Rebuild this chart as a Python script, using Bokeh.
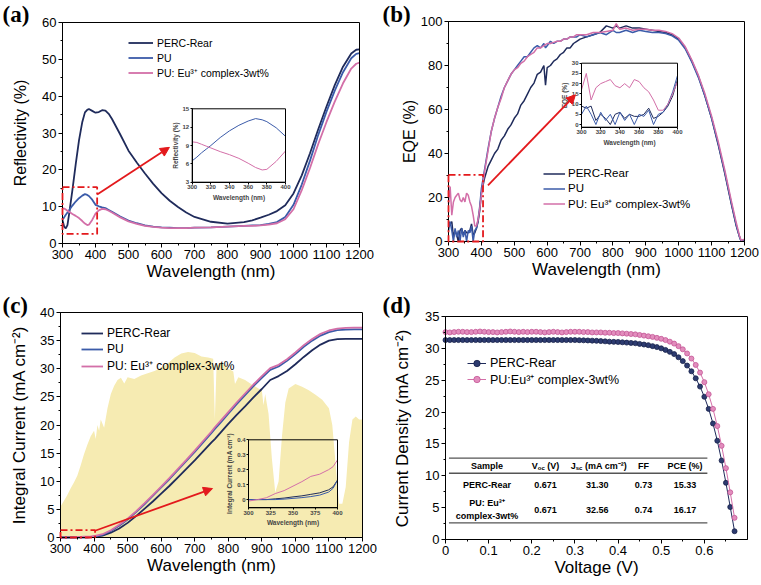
from bokeh.plotting import figure
from bokeh.layouts import row, column
from bokeh.models import (Range1d, LinearAxis, SingleIntervalTicker, FixedTicker,
                          Legend, LegendItem, BoxAnnotation, Arrow, NormalHead, Label)
from bokeh.core.properties import value
from bokeh.embed import file_html
from bokeh.resources import INLINE

# ---------------- (a) reflectivity ----------------
WL_A = [300, 305, 310, 315, 320, 330, 340, 350, 360, 368,
        375, 380, 390, 400, 410, 420, 430, 440, 450, 475,
        500, 525, 550, 575, 600, 625, 650, 675, 700, 750,
        800, 850, 875, 900, 925, 950, 975, 1000, 1025, 1050,
        1075, 1100, 1125, 1150, 1175, 1190, 1200]
REFL_PERC = [6.3, 4.6, 4.1, 5.0, 8.0, 14.5, 21.5, 28.0, 33.0, 35.6,
             36.3, 36.5, 36.0, 35.5, 35.7, 36.2, 36.1, 35.2, 33.8, 29.6,
             25.2, 22.0, 19.0, 16.2, 13.7, 11.6, 9.9, 8.4, 7.2, 5.9,
             5.4, 5.8, 6.3, 7.0, 7.8, 8.8, 10.4, 13.6, 18.5, 24.5,
             31.0, 37.2, 43.0, 48.0, 51.6, 52.6, 52.7]
REFL_PU = [6.5, 7.1, 7.8, 8.4, 9.0, 10.3, 11.4, 12.3, 13.0, 13.4,
           13.2, 12.9, 11.9, 10.5, 10.1, 9.8, 9.6, 9.1, 8.6, 7.3,
           6.2, 5.5, 4.9, 4.6, 4.4, 4.3, 4.2, 4.2, 4.3, 4.4,
           4.6, 4.8, 4.9, 5.0, 5.3, 5.8, 7.2, 10.5, 16.0, 22.5,
           29.5, 35.8, 41.5, 46.5, 50.3, 51.5, 51.7]
REFL_EU = [9.6, 9.5, 9.2, 8.9, 8.6, 8.0, 7.5, 6.9, 6.1, 5.4,
           5.0, 5.1, 6.4, 8.1, 9.0, 9.4, 9.3, 8.9, 8.4, 7.1,
           6.0, 5.3, 4.8, 4.5, 4.3, 4.2, 4.2, 4.2, 4.3, 4.4,
           4.6, 4.8, 4.8, 4.9, 5.1, 5.5, 6.6, 9.3, 14.5, 20.5,
           27.0, 33.0, 38.5, 43.5, 47.5, 48.8, 49.1]

# ---------------- (b) EQE ----------------
WL_B = [300, 305, 310, 315, 320, 325, 330, 335, 340, 345,
        350, 355, 360, 365, 370, 375, 380, 385, 390, 395,
        400, 410, 420, 430, 440, 450, 460, 470, 480, 490,
        500, 510, 520, 530, 540, 550, 560, 570, 580, 590,
        595, 600, 610, 620, 630, 640, 650, 660, 670, 680,
        690, 700, 720, 740, 760, 780, 800, 810, 820, 840,
        860, 880, 900, 920, 940, 960, 980, 1000, 1020, 1040,
        1060, 1080, 1100, 1120, 1140, 1160, 1175, 1185, 1190, 1200]
EQE_PERC = [9, 8, 9, 2, 5, 3, 0, 5, 6, 3,
            5, 4, 4, 5, 8, 3, 4, 6, 9, 14,
            22, 29, 34, 37, 40, 42, 46, 48, 51, 53,
            56, 58, 62, 64, 67, 70, 72, 76, 77, 80,
            71, 79, 80, 82, 83, 85, 86, 88, 88, 90,
            91, 92, 93, 94, 95, 98, 97, 98, 97, 98,
            97, 97, 96.5, 96, 95.5, 95, 94, 92, 88, 82,
            75, 66, 56, 44, 31, 17, 7, 2, 0, 1]
EQE_PU = [5, 9, 5, 0, 6, 2, 5, 0, 6, 2,
          5, 0, 5, 4, 7, 0, 5, 6, 10, 16,
          24, 33, 42, 50, 56, 61, 66, 70, 73, 76,
          78, 80, 82, 84, 84, 86, 88, 89, 88, 90,
          88, 89, 91, 90, 91, 91, 92, 92, 93, 93,
          93, 94, 93, 94, 95, 94, 96, 95, 95, 96,
          95, 96, 95.5, 95, 95, 94.5, 93.5, 91.5, 87.5, 81.5,
          74.5, 66, 56, 44.5, 31.5, 17.5, 7.5, 2, 0, 1]
EQE_EU = [17, 25, 12, 18, 20, 21, 22, 19, 18, 20,
          18, 22, 21, 18, 16, 12, 7, 7, 10, 15,
          21, 32, 41, 50, 56, 61, 65, 70, 73, 76,
          78, 79, 81, 82, 84, 85, 86, 88, 88, 89,
          89.5, 90, 90, 90.5, 91, 91, 92, 92, 93, 93,
          94, 94, 94, 95, 95, 95.5, 96, 99, 96.5, 97,
          96, 96.5, 96.5, 96, 96, 95.5, 94.5, 92.5, 88.5, 82.5,
          75.5, 67, 57, 45.5, 32.5, 18.5, 8.5, 2.5, 0.5, 1]

# ---------------- (c) integral current + AM1.5G ----------------
WL_C = [300, 310, 320, 330, 340, 350, 360, 370, 380, 390,
        395, 400, 425, 450, 475, 500, 525, 550, 575, 600,
        625, 650, 675, 700, 725, 750, 760, 775, 800, 825,
        850, 875, 900, 925, 950, 975, 1000, 1025, 1050, 1075,
        1100, 1125, 1150, 1175, 1200]
JINT_PERC = [0, 0, 0, 0.005, 0.01, 0.018, 0.025, 0.035, 0.045, 0.065,
             0.085, 0.13, 0.35, 0.85, 1.6, 2.6, 3.8, 5.1, 6.4, 7.8,
             9.2, 10.7, 12.2, 13.7, 15.3, 16.9, 17.5, 18.5, 20.2, 21.8,
             23.3, 24.9, 26.4, 28.0, 28.7, 29.6, 30.8, 32.1, 33.3, 34.3,
             35.0, 35.25, 35.3, 35.3, 35.3]
JINT_PU = [0, 0, 0, 0, 0.003, 0.008, 0.013, 0.02, 0.03, 0.05,
           0.075, 0.13, 0.45, 1.15, 2.1, 3.2, 4.5, 5.9, 7.4, 8.9,
           10.4, 12.0, 13.6, 15.2, 16.9, 18.6, 19.3, 20.3, 22.0, 23.7,
           25.3, 26.9, 28.4, 29.8, 30.4, 31.4, 32.6, 33.9, 35.0, 35.9,
           36.5, 36.85, 36.95, 37.0, 37.0]
JINT_EU = [-0.01, 0.0, 0.012, 0.04, 0.06, 0.09, 0.12, 0.155, 0.17, 0.2,
           0.22, 0.265, 0.58, 1.3, 2.25, 3.35, 4.65, 6.05, 7.55, 9.05,
           10.6, 12.2, 13.8, 15.45, 17.15, 18.85, 19.6, 20.6, 22.3, 24.0,
           25.6, 27.2, 28.7, 30.1, 30.7, 31.7, 32.9, 34.2, 35.3, 36.2,
           36.8, 37.15, 37.25, 37.3, 37.3]
SOLAR_WL = [300, 310, 320, 330, 340, 350, 360, 370, 380, 390,
            400, 405, 410, 415, 420, 430, 440, 450, 460, 470,
            480, 490, 500, 520, 540, 560, 580, 600, 620, 640,
            660, 680, 700, 720, 740, 755, 760, 765, 780, 800,
            815, 820, 830, 850, 870, 890, 900, 905, 910, 920,
            930, 940, 950, 960, 970, 980, 1000, 1020, 1040, 1060,
            1080, 1100, 1110, 1120, 1130, 1140, 1150, 1160, 1170, 1180,
            1190, 1200]
SOLAR_Y = [5.5, 6.5, 7.5, 8.7, 9.8, 11.0, 12.8, 14.8, 16.5, 18.0,
           19.0, 17.5, 20.0, 19.0, 21.0, 19.5, 23.0, 25.5, 27.0, 28.0,
           28.4, 27.4, 28.5, 28.2, 28.8, 29.2, 29.6, 30.2, 31.0, 32.0,
           32.7, 33.0, 32.8, 32.2, 32.0, 31.8, 21.0, 30.5, 31.2, 30.0,
           29.5, 27.3, 28.5, 28.0, 27.2, 26.5, 26.2, 23.5, 25.5, 22.0,
           14.0, 8.0, 10.0, 18.0, 24.0, 26.5, 27.3, 26.8, 26.2, 25.4,
           24.5, 23.0, 20.0, 13.0, 6.0, 6.0, 9.0, 17.0, 21.0, 21.5,
           21.0, 21.0]

# ---------------- (d) J-V ----------------
V_D = [0.00, 0.01, 0.02, 0.03, 0.04, 0.05, 0.06, 0.07, 0.08, 0.09,
       0.10, 0.11, 0.12, 0.13, 0.14, 0.15, 0.16, 0.17, 0.18, 0.19,
       0.20, 0.21, 0.22, 0.23, 0.24, 0.25, 0.26, 0.27, 0.28, 0.29,
       0.30, 0.31, 0.32, 0.33, 0.34, 0.35, 0.36, 0.37, 0.38, 0.39,
       0.40, 0.41, 0.42, 0.43, 0.44, 0.45, 0.46, 0.47, 0.48, 0.49,
       0.50, 0.51, 0.52, 0.53, 0.54, 0.55, 0.56, 0.57, 0.58, 0.59,
       0.60, 0.61, 0.62, 0.63, 0.64, 0.65, 0.66, 0.67]
J_PERC = [31.3, 31.3, 31.3, 31.3, 31.3, 31.3, 31.3, 31.3, 31.3, 31.3,
          31.3, 31.3, 31.3, 31.3, 31.3, 31.3, 31.3, 31.3, 31.3, 31.3,
          31.3, 31.3, 31.3, 31.3, 31.3, 31.3, 31.3, 31.3, 31.3, 31.3,
          31.3, 31.28, 31.26, 31.24, 31.21, 31.18, 31.14, 31.1, 31.05, 31.02,
          31.0, 30.95, 30.9, 30.85, 30.8, 30.7, 30.6, 30.5, 30.35, 30.2,
          30.0, 29.75, 29.45, 29.1, 28.6, 28.0, 27.3, 26.4, 25.3, 24.0,
          22.4, 20.5, 18.2, 15.5, 12.4, 8.9, 5.1, 1.3]
J_EU = [32.55, 32.5, 32.55, 32.6, 32.6, 32.55, 32.55, 32.6, 32.65, 32.6,
        32.55, 32.55, 32.5, 32.55, 32.6, 32.65, 32.6, 32.55, 32.6, 32.55,
        32.6, 32.6, 32.55, 32.5, 32.55, 32.6, 32.55, 32.5, 32.55, 32.6,
        32.6, 32.6, 32.55, 32.55, 32.5, 32.5, 32.5, 32.45, 32.45, 32.4,
        32.4, 32.35, 32.3, 32.25, 32.2, 32.1, 32.0, 31.9, 31.8, 31.65,
        31.5, 31.3, 31.05, 30.75, 30.35, 29.85, 29.2, 28.4, 27.4, 26.2,
        24.7, 22.8, 20.5, 17.8, 14.7, 11.2, 7.4, 3.4]

TAB_SAMPLE = ["PERC-Rear", "PU: Eu³⁺", "complex-3wt%"]
TAB_VOC = ["0.671", "0.671"]
TAB_JSC = ["31.30", "32.56"]
TAB_FF = ["0.73", "0.74"]
TAB_PCE = ["15.33", "16.17"]

LEG_LABELS = ["PERC-Rear", "PU", "PU: Eu³⁺ complex-3wt%"]

# ---------------- style ----------------
FONT = "Liberation Sans"
SERIF = "Liberation Serif"
NAVY = "#1f2b5b"
BLUE = "#3b5ba9"
PINK = "#d36fa8"
RED = "#e3191c"
YELLOW = "#f6ebb2"
H = 292
W = 380


def span_x(a, b, p0, p1):
    s = (b - a) * W / (p1 - p0)
    st = a - p0 * s / W
    return Range1d(st, st + s)


def span_y(c, d, top, bot):
    s = (d - c) * H / (bot - top)
    st = c - (H - bot) * s / H
    return Range1d(st, st + s)


def style_axis(ax, lab_size, lab_standoff, tick_size="13px"):
    ax.axis_line_color = "black"
    ax.axis_line_width = 1
    ax.major_tick_line_color = "black"
    ax.minor_tick_line_color = "black"
    ax.major_tick_in = 0
    ax.major_tick_out = 4
    ax.minor_tick_in = 0
    ax.minor_tick_out = 2
    ax.major_label_text_font = FONT
    ax.major_label_text_font_size = tick_size
    ax.major_label_text_color = "black"
    ax.major_label_standoff = 2
    ax.axis_label_text_font = FONT
    ax.axis_label_text_font_size = lab_size
    ax.axis_label_text_font_style = "normal"
    ax.axis_label_text_color = "black"
    ax.axis_label_standoff = lab_standoff


def style_inset(ax):
    ax.axis_line_color = "black"
    ax.axis_line_width = 1
    ax.major_tick_in = 0
    ax.major_tick_out = 2
    ax.minor_tick_in = 0
    ax.minor_tick_out = 0
    ax.major_label_text_font = FONT
    ax.major_label_text_font_size = "6px"
    ax.major_label_text_font_style = "bold"
    ax.major_label_standoff = 1
    ax.axis_label_text_font = FONT
    ax.axis_label_text_font_size = "6.5px"
    ax.axis_label_text_font_style = "bold"
    ax.axis_label_standoff = 1


def make_fig(box, xr, yr, xint, yint, xlabel, ylabel, ylab_size, ylab_standoff, tag, tag_y):
    px0, py0, px1, py1 = box
    p = figure(width=W, height=H, x_range=span_x(xr[0], xr[1], px0, px1),
               y_range=span_y(yr[0], yr[1], py0, py1),
               output_backend="svg", toolbar_location=None,
               min_border=0, min_border_left=0, min_border_right=0,
               min_border_top=0, min_border_bottom=0,
               x_axis_label=xlabel, y_axis_label=ylabel)
    p.xgrid.visible = False
    p.ygrid.visible = False
    p.outline_line_color = None
    xa = p.xaxis[0]
    ya = p.yaxis[0]
    xa.fixed_location = yr[0]
    xa.bounds = tuple(xr)
    ya.fixed_location = xr[0]
    ya.bounds = tuple(yr)
    xa.ticker = SingleIntervalTicker(interval=xint, num_minor_ticks=2)
    ya.ticker = SingleIntervalTicker(interval=yint, num_minor_ticks=2)
    style_axis(xa, "17px", 0)
    style_axis(ya, ylab_size, ylab_standoff)
    p.add_layout(BoxAnnotation(left=xr[0], right=xr[1], bottom=yr[0], top=yr[1],
                               fill_color=None, line_color="black", line_alpha=1, line_width=1))
    p.add_layout(Label(x=2, y=tag_y, x_units="screen", y_units="screen", text=tag,
                       text_font=SERIF, text_font_style="bold", text_font_size="23px",
                       text_baseline="top", text_align="left", text_color="black"))
    return p


def add_inset(p, key, box, xr, yr, xticks, yticks, xlabel, ylabel):
    px0, py0, px1, py1 = box
    p.extra_x_ranges = {key: span_x(xr[0], xr[1], px0, px1)}
    p.extra_y_ranges = {key: span_y(yr[0], yr[1], py0, py1)}
    xa = LinearAxis(x_range_name=key, y_range_name=key, fixed_location=yr[0], bounds=tuple(xr),
                    ticker=FixedTicker(ticks=xticks), axis_label=xlabel)
    ya = LinearAxis(x_range_name=key, y_range_name=key, fixed_location=xr[0], bounds=tuple(yr),
                    ticker=FixedTicker(ticks=yticks), axis_label=ylabel)
    style_inset(xa)
    style_inset(ya)
    p.add_layout(xa, "below")
    p.add_layout(ya, "left")
    p.add_layout(BoxAnnotation(left=xr[0], right=xr[1], bottom=yr[0], top=yr[1],
                               x_range_name=key, y_range_name=key, fill_color=None,
                               line_color="black", line_alpha=1, line_width=1))


def add_legend(p, renderers, labels, left, top, font_size, glyph_w, row_h, standoff):
    items = [LegendItem(label=lab, renderers=r) for lab, r in zip(labels, renderers)]
    loc = (left, H - top - row_h * len(items))
    lg = Legend(items=items, location=loc, border_line_color=None, background_fill_alpha=0,
                label_text_font=FONT, label_text_font_size=font_size, label_text_color="black",
                glyph_width=glyph_w, glyph_height=int(row_h), label_height=int(row_h),
                spacing=0, padding=0, margin=0, label_standoff=standoff)
    p.add_layout(lg)


def red_box(p, l, r, b, t):
    p.add_layout(BoxAnnotation(left=l, right=r, bottom=b, top=t, fill_color=None,
                               line_color=RED, line_alpha=1, line_width=1.8,
                               line_dash="7 3 2 3"))


def red_arrow(p, xs, ys, xe, ye):
    p.add_layout(Arrow(end=NormalHead(size=9, fill_color=RED, line_color=RED),
                       x_start=xs, y_start=ys, x_end=xe, y_end=ye,
                       line_color=RED, line_width=1.8))


def subset(xs, ys, hi=400):
    pairs = [(x, y) for x, y in zip(xs, ys) if x <= hi]
    return [a for a, _ in pairs], [b for _, b in pairs]


# ================= (a) =================
pa = make_fig((62, 22, 359, 243), (300, 1200), (0, 60), 100, 10, "Wavelength (nm)",
              "Reflectivity (%)", "16px", 10, "(a)", H - 1)
ra1 = pa.line(WL_A, REFL_PERC, line_color=NAVY, line_width=1.8)
ra2 = pa.line(WL_A, REFL_PU, line_color=BLUE, line_width=1.8)
ra3 = pa.line(WL_A, REFL_EU, line_color=PINK, line_width=1.8)
red_box(pa, 300, 405, 2.6, 15.3)
red_arrow(pa, 405, 13.3, 624, 26.1)
add_inset(pa, "ia", (191.7, 108.3, 285, 181.7), (300, 400), (3, 15),
          [300, 320, 340, 360, 380, 400], [3, 6, 9, 12, 15], "Wavelength (nm)", "Reflectivity (%)")
x_, y_ = subset(WL_A, REFL_PU)
pa.line(x_, y_, line_color=BLUE, line_width=1, x_range_name="ia", y_range_name="ia")
x_, y_ = subset(WL_A, REFL_EU)
pa.line(x_, y_, line_color=PINK, line_width=1, x_range_name="ia", y_range_name="ia")
add_legend(pa, [[ra1], [ra2], [ra3]], LEG_LABELS, 128, 35.2, "10.5px", 25, 15, 4)

# ================= (b) =================
pb = make_fig((68, 21, 364, 241), (300, 1200), (0, 100), 100, 20, "Wavelength (nm)",
              "EQE (%)", "16px", 0, "(b)", H - 1)
rb1 = pb.line(WL_B, EQE_PERC, line_color=NAVY, line_width=1.5)
rb2 = pb.line(WL_B, EQE_PU, line_color=BLUE, line_width=1.5)
rb3 = pb.line(WL_B, EQE_EU, line_color=PINK, line_width=1.5)
red_box(pb, 300, 405, 0, 30.3)
red_arrow(pb, 420, 25.5, 686, 66.7)
add_inset(pb, "ib", (201, 62.7, 297, 126.7), (300, 400), (-1.3, 30),
          [300, 320, 340, 360, 380, 400], [0, 5, 10, 15, 20, 25, 30], "Wavelength (nm)", "EQE (%)")
for ys, c in ((EQE_PERC, NAVY), (EQE_PU, BLUE), (EQE_EU, PINK)):
    x_, y_ = subset(WL_B, ys)
    pb.line(x_, y_, line_color=c, line_width=1, x_range_name="ib", y_range_name="ib")
add_legend(pb, [[rb1], [rb2], [rb3]], LEG_LABELS, 163, 165.5, "11.5px", 22, 15, 3)

# ================= (c) =================
pc = make_fig((60, 20, 362, 245), (300, 1200), (0, 40), 100, 5, "Wavelength (nm)",
              "Integral Current (mA cm⁻²)", "17px", 8, "(c)", H)
pc.varea(x=SOLAR_WL, y1=[0] * len(SOLAR_WL), y2=SOLAR_Y, fill_color=YELLOW, fill_alpha=1)
rc1 = pc.line(WL_C, JINT_PERC, line_color=NAVY, line_width=1.8)
rc2 = pc.line(WL_C, JINT_PU, line_color=BLUE, line_width=1.8)
rc3 = pc.line(WL_C, JINT_EU, line_color=PINK, line_width=1.8)
red_box(pc, 300, 403, 0, 1.3)
red_arrow(pc, 403, 1.2, 753, 8.7)
add_inset(pc, "ic", (248, 147.3, 337, 215.3), (300, 400), (-0.055, 0.4),
          [300, 325, 350, 375, 400], [0.0, 0.1, 0.2, 0.3, 0.4], "Wavelength (nm)",
          "Integral Current (mA cm⁻²)")
for ys, c in ((JINT_PERC, NAVY), (JINT_PU, BLUE), (JINT_EU, PINK)):
    x_, y_ = subset(WL_C, ys)
    pc.line(x_, y_, line_color=c, line_width=1, x_range_name="ic", y_range_name="ic")
add_legend(pc, [[rc1], [rc2], [rc3]], LEG_LABELS, 21 + 60, 32.4, "12px", 22, 16.6, 4)

# ================= (d) =================
pd_ = make_fig((65, 24, 367, 247), (0, 0.7), (0, 35), 0.1, 5, "Voltage (V)",
               "Current Density (mA cm⁻²)", "17px", 10, "(d)", H)
ld1 = pd_.line(V_D, J_PERC, line_color=NAVY, line_width=1)
sd1 = pd_.scatter(V_D, J_PERC, marker="circle", size=5, fill_color="#2d3b70", line_color="#18224a", line_width=0.8)
ld2 = pd_.line(V_D, J_EU, line_color=PINK, line_width=1)
sd2 = pd_.scatter(V_D, J_EU, marker="circle", size=5, fill_color="#e28dbd", line_color="#c45596", line_width=0.8)
add_legend(pd_, [[ld1, sd1], [ld2, sd2]], ["PERC-Rear", "PU:Eu³⁺ complex-3wt%"],
           87, 62.4, "12.5px", 19, 16.6, 4)

# table
TX = [0.096, 0.232, 0.352, 0.459, 0.555]
pd_.segment(x0=[0.008] * 3, x1=[0.607] * 3, y0=[12.76, 10.4, 2.62], y1=[12.76, 10.4, 2.62],
            line_color="#555555", line_width=1.3)


def ttext(x, y, s, size="9px", dx=0, dy=0, align="center"):
    pd_.text(x=[x], y=[y], text=[s], x_offset=dx, y_offset=dy, text_font=value(FONT),
             text_font_style="bold", text_font_size=size, text_align=align,
             text_baseline="middle", text_color="black")


HY = 11.55
ttext(TX[0], HY, "Sample")
ttext(TX[1], HY, "V", align="left", dx=-13.75)
ttext(TX[1], HY, "oc", size="6px", align="left", dx=-7.75, dy=2.5)
ttext(TX[1], HY, "(V)", align="left", dx=1.75)
ttext(TX[2], HY, "J", align="left", dx=-26.6)
ttext(TX[2], HY, "sc", size="6px", align="left", dx=-21.6, dy=2.5)
ttext(TX[2], HY, "(mA cm⁻²)", align="left", dx=-12.4)
ttext(TX[3], HY, "FF")
ttext(TX[4], HY, "PCE (%)")
ROWY = [8.5, 4.7]
ttext(TX[0], ROWY[0], TAB_SAMPLE[0])
ttext(TX[0], 5.7, TAB_SAMPLE[1])
ttext(TX[0], 3.7, TAB_SAMPLE[2])
for i in range(2):
    ttext(TX[1], ROWY[i], TAB_VOC[i])
    ttext(TX[2], ROWY[i], TAB_JSC[i])
    ttext(TX[3], ROWY[i], TAB_FF[i])
    ttext(TX[4], ROWY[i], TAB_PCE[i])

layout = column(row(pa, pb), row(pc, pd_))
open("out.html", "w").write(file_html(layout, INLINE))
